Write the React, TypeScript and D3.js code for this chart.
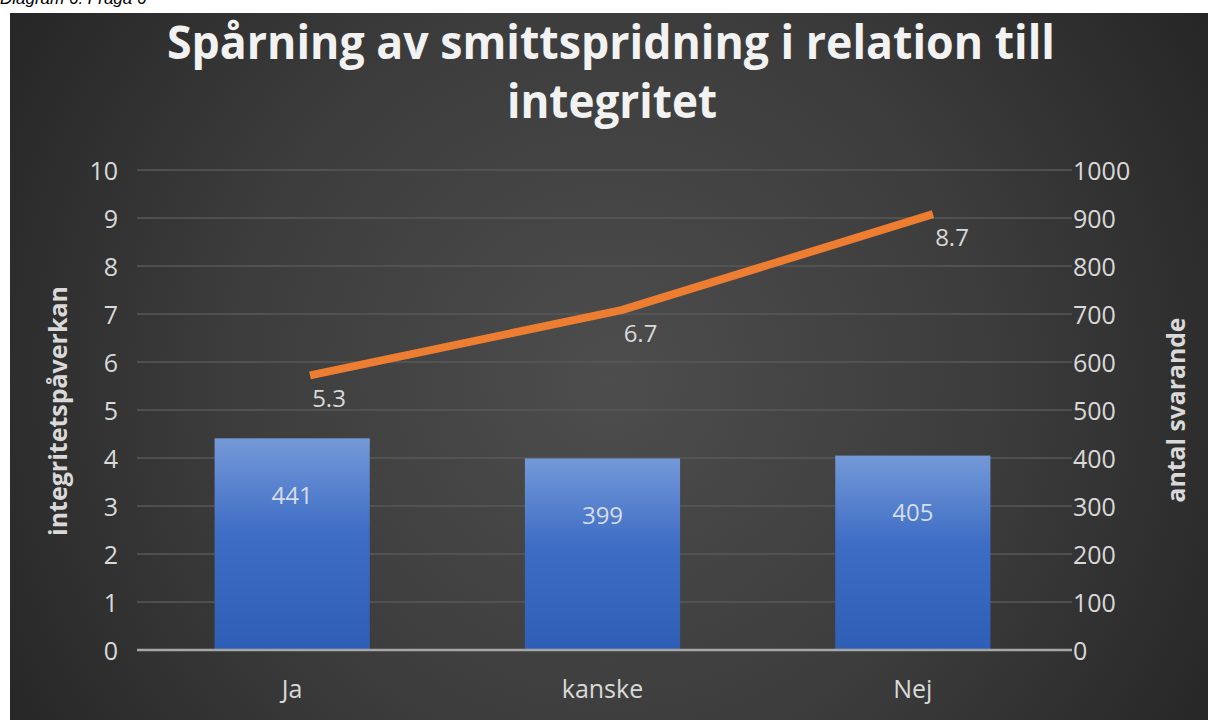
import React from "react";
import * as d3 from "d3";

const categories = ["Ja", "kanske", "Nej"];
const barValues = [441, 399, 405];
// line positions as read against the left axis, and the data labels printed on them
const lineValues = [5.72, 7.08, 9.08];
const lineLabels = ["5.3", "6.7", "8.7"];
const leftTicks = [0, 1, 2, 3, 4, 5, 6, 7, 8, 9, 10];
const rightTicks = [0, 100, 200, 300, 400, 500, 600, 700, 800, 900, 1000];
const titleLines = ["Spårning av smittspridning i relation till", "integritet"];
const leftAxisTitle = "integritetspåverkan";
const rightAxisTitle = "antal svarande";
const caption = "Diagram 6: Fråga 6";

const W = 1208;
const H = 720;
const FONT = "'Open Sans', 'DejaVu Sans', sans-serif";

export default function App() {
  const plot = { left: 137, right: 1068, top: 170, bottom: 650 };
  const x = d3.scaleBand<string>().domain(categories).range([plot.left, plot.right]).paddingInner(0.5).paddingOuter(0.25);
  const xc = (c: string) => (x(c) as number) + x.bandwidth() / 2;
  // the line series sits slightly right of the bar centres in the reference
  const xLine = d3.scalePoint<string>().domain(categories).range([plot.left + 173, plot.right - 135]);
  const yL = d3.scaleLinear().domain([0, 10]).range([plot.bottom, plot.top]);
  const yR = d3.scaleLinear().domain([0, 1000]).range([plot.bottom, plot.top]);
  const line = d3
    .line<number>()
    .x((_, i) => xLine(categories[i]) as number)
    .y((d) => yL(d));

  const tickColor = "#d9d9d9";

  return (
    <svg width={W} height={H} style={{ position: "absolute", left: 0, top: 0, display: "block" }}>
      <defs>
        <radialGradient id="bg" cx="610" cy="380" r="700" gradientUnits="userSpaceOnUse">
          <stop offset="0" stopColor="#4d4d4d" />
          <stop offset="0.55" stopColor="#3c3c3c" />
          <stop offset="1" stopColor="#262626" />
        </radialGradient>
        <linearGradient id="bar" x1="0" y1="0" x2="0" y2="1">
          <stop offset="0" stopColor="#7499d8" />
          <stop offset="0.45" stopColor="#3e6dc5" />
          <stop offset="1" stopColor="#2f5eb6" />
        </linearGradient>
      </defs>
      <rect x={0} y={0} width={W} height={H} fill="#ffffff" />
      <text x={0} y={4} fontFamily="'Liberation Sans', Arial, sans-serif" fontStyle="italic" fontSize={17} fill="#000">
        {caption}
      </text>
      <rect x={10} y={13} width={W - 10} height={H - 13} fill="url(#bg)" />

      {/* title */}
      <text x={611} y={59} textAnchor="middle" fontFamily={FONT} fontWeight={700} fontSize={47} fill="#f2f2f2"
        textLength={888} lengthAdjust="spacingAndGlyphs">
        {titleLines[0]}
      </text>
      <text x={612} y={118} textAnchor="middle" fontFamily={FONT} fontWeight={700} fontSize={47} fill="#f2f2f2"
        textLength={210} lengthAdjust="spacingAndGlyphs">
        {titleLines[1]}
      </text>

      {/* gridlines */}
      {leftTicks.slice(1).map((t) => (
        <line key={t} x1={plot.left} x2={plot.right + 4} y1={yL(t)} y2={yL(t)} stroke="#595959" strokeWidth={1.5} />
      ))}

      {/* bars */}
      {categories.map((c, i) => (
        <g key={c}>
          <rect x={x(c)} y={yR(barValues[i])} width={x.bandwidth()} height={yR(0) - yR(barValues[i])} fill="url(#bar)" />
          <text x={xc(c)} y={yR(barValues[i]) + 56} textAnchor="middle" dominantBaseline="central" fontFamily={FONT}
            fontSize={24} fill="#d6dcea">
            {barValues[i]}
          </text>
        </g>
      ))}

      {/* baseline */}
      <line x1={plot.left} x2={plot.right + 4} y1={plot.bottom} y2={plot.bottom} stroke="#a6a6a6" strokeWidth={2.5} />

      {/* line series */}
      <path d={line(lineValues) || ""} fill="none" stroke="#ed7d31" strokeWidth={8} strokeLinejoin="round" />
      {lineValues.map((v, i) => (
        <text key={i} x={(xLine(categories[i]) as number) + 19} y={yL(v) + 22} textAnchor="middle"
          dominantBaseline="central" fontFamily={FONT} fontSize={24} fill={tickColor}>
          {lineLabels[i]}
        </text>
      ))}

      {/* left axis */}
      {leftTicks.map((t) => (
        <text key={t} x={118} y={yL(t)} textAnchor="end" dominantBaseline="central" fontFamily={FONT} fontSize={25}
          fill={tickColor}>
          {t}
        </text>
      ))}
      {/* right axis */}
      {rightTicks.map((t) => (
        <text key={t} x={1073} y={yR(t)} textAnchor="start" dominantBaseline="central" fontFamily={FONT} fontSize={25}
          fill={tickColor}>
          {t}
        </text>
      ))}

      {/* category labels */}
      {categories.map((c) => (
        <text key={c} x={xc(c)} y={688} textAnchor="middle" dominantBaseline="central" fontFamily={FONT} fontSize={25}
          fill={tickColor}>
          {c}
        </text>
      ))}

      {/* axis titles */}
      <text transform={`translate(57,411) rotate(-90)`} textAnchor="middle" dominantBaseline="central" fontFamily={FONT}
        fontWeight={700} fontSize={25} fill={tickColor} textLength={250} lengthAdjust="spacingAndGlyphs">
        {leftAxisTitle}
      </text>
      <text transform={`translate(1175,410) rotate(-90)`} textAnchor="middle" dominantBaseline="central" fontFamily={FONT}
        fontWeight={700} fontSize={25} fill={tickColor} textLength={185} lengthAdjust="spacingAndGlyphs">
        {rightAxisTitle}
      </text>
    </svg>
  );
}
